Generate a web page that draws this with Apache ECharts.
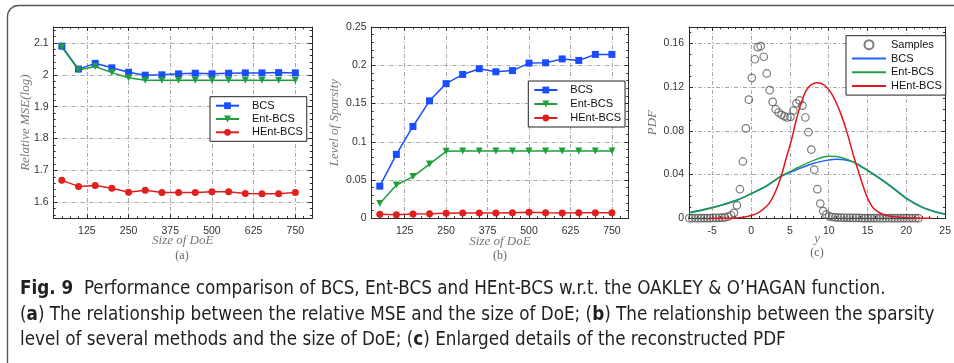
<!DOCTYPE html>
<html>
<head>
<meta charset="utf-8">
<script src="https://cdn.jsdelivr.net/npm/echarts@6/dist/echarts.min.js"></script>
<style>
html, body { margin: 0; padding: 0; background: #fff; }
#chart { width: 954px; height: 363px; }
</style>
</head>
<body>
<div id="chart"></div>
<script>
// (a) relative MSE and (b) sparsity against the size of DoE
var doeSizes = [50, 100, 150, 200, 250, 300, 350, 400, 450, 500, 550, 600, 650, 700, 750];
var mseBCS  = [2.090, 2.018, 2.036, 2.022, 2.008, 1.999, 2.000, 2.003, 2.005, 2.003, 2.005, 2.006, 2.006, 2.007, 2.006];
var mseEnt  = [2.087, 2.015, 2.026, 2.007, 1.991, 1.983, 1.983, 1.983, 1.983, 1.983, 1.983, 1.983, 1.983, 1.983, 1.983];
var mseHEnt = [1.669, 1.650, 1.653, 1.644, 1.632, 1.638, 1.631, 1.631, 1.631, 1.633, 1.633, 1.628, 1.627, 1.627, 1.631];
var sparBCS  = [0.042, 0.0835, 0.120, 0.1535, 0.176, 0.188, 0.1955, 0.1915, 0.193, 0.2028, 0.2032, 0.2083, 0.2063, 0.2142, 0.2142];
var sparEnt  = [0.0195, 0.0435, 0.0545, 0.0708, 0.0875, 0.0878, 0.0878, 0.0878, 0.0878, 0.0878, 0.0878, 0.0878, 0.0878, 0.0878, 0.0878];
var sparHEnt = [0.0052, 0.0045, 0.0057, 0.0060, 0.0066, 0.0070, 0.0070, 0.0070, 0.0074, 0.0079, 0.0074, 0.0070, 0.0074, 0.0074, 0.0074];

// (c) reconstructed PDF
var sampleX = [-7.96, -7.58, -7.19, -6.81, -6.43, -6.04, -5.66, -5.28, -4.89, -4.51, -4.13, -3.74, -3.36, -2.97, -2.59, -2.21,
	-1.82, -1.44, -1.06, -0.67, -0.29, 0.09, 0.48, 0.86, 1.24, 1.63, 2.01, 2.39, 2.78, 3.16, 3.54, 3.93, 4.31, 4.69,
	5.08, 5.46, 5.84, 6.23, 6.61, 6.99, 7.38, 7.76, 8.14, 8.53, 8.91, 9.29, 9.68, 10.06, 10.44, 10.83, 11.21, 11.59,
	11.98, 12.36, 12.74, 13.13, 13.51, 13.89, 14.28, 14.66, 15.04, 15.43, 15.81, 16.19, 16.58, 16.96, 17.34, 17.73,
	18.11, 18.49, 18.88, 19.26, 19.64, 20.03, 20.41, 20.79, 21.18, 21.56];
var sampleY = [0.0001, 0.0001, 0.0001, 0.0001, 0.0001, 0.0002, 0.0002, 0.0002, 0.0003, 0.0003, 0.0004, 0.0006, 0.0009, 0.0015, 0.0028, 0.0050,
	0.0119, 0.0266, 0.0520, 0.0822, 0.1085, 0.1285, 0.1455, 0.1565, 0.1575, 0.1478, 0.1325, 0.1172, 0.1065, 0.0998, 0.0968, 0.0947, 0.0933, 0.0922,
	0.0928, 0.0985, 0.1052, 0.1078, 0.1031, 0.0922, 0.0788, 0.0629, 0.0445, 0.0266, 0.0135, 0.0066, 0.0034, 0.0018, 0.0012, 0.0009, 0.0007, 0.0006,
	0.0005, 0.0004, 0.0004, 0.0003, 0.0003, 0.0003, 0.0002, 0.0002, 0.0002, 0.0002, 0.0002, 0.0001, 0.0001, 0.0001, 0.0001, 0.0001,
	0.0001, 0.0001, 0.0001, 0.0001, 0.0001, 0.0001, 0.0001, 0.0001, 0.0001, 0.0001];
var pdfX   = [-8, -6, -4, -2, 0, 2, 4, 6, 8, 10, 11, 12, 13.2, 14, 16, 18, 20, 22, 24, 25];
var pdfBCS = [0.0052, 0.0082, 0.0118, 0.0163, 0.0225, 0.0295, 0.0388, 0.0448, 0.0502, 0.0533, 0.0540, 0.0535, 0.0514, 0.0485, 0.0395, 0.0295, 0.0185, 0.0105, 0.0055, 0.0040];
var pdfEnt = [0.0048, 0.0078, 0.0115, 0.0160, 0.0225, 0.0298, 0.0392, 0.0462, 0.0528, 0.0568, 0.0565, 0.0548, 0.0514, 0.0480, 0.0390, 0.0290, 0.0180, 0.0100, 0.0052, 0.0037];
var hentX  = [-5.3, -3, -1, 0, 1, 2, 2.5, 3.2, 3.9, 4.5, 5.2, 5.8, 6.5, 7.1, 7.8, 8.6, 9.5, 10.4, 11.4, 12.3, 13.2, 13.8, 14.5, 15.1, 15.8, 17, 18.7, 21, 23.2];
var hentY  = [0, 0.0001, 0.0010, 0.0025, 0.0055, 0.0110, 0.0155, 0.0255, 0.0390, 0.0545, 0.0715, 0.0895, 0.1065, 0.1170, 0.1225, 0.1240, 0.1215, 0.1135, 0.0985, 0.0800, 0.0570, 0.0435, 0.0280, 0.0170, 0.0090, 0.0035, 0.0013, 0.0003, 0];

// tick labels
var doeTicks  = [125, 250, 375, 500, 625, 750];
var mseTicks  = [1.6, 1.7, 1.8, 1.9, 2.0, 2.1];
var sparTicks = [0, 0.05, 0.1, 0.15, 0.2, 0.25];
var yTicks    = [-5, 0, 5, 10, 15, 20, 25];
var pdfTicks  = [0, 0.04, 0.08, 0.12, 0.16];

var blue = '#1a4dff', green = '#1f9f3a', red = '#e0201e';
var labelFont = 'Liberation Sans, Arial, sans-serif';
var mathFont = 'Liberation Serif, Times New Roman, serif';

function pairs(xs, ys)
{
	var re = [];
	for(var i=0; i<xs.length; i++)
		re.push([xs[i], ys[i]]);
	return re;
}

// minor tick positions along an axis
function tickRange(from, to, step)
{
	var re = [];
	var n = Math.round((to - from) / step);
	for(var i=0; i<=n; i++)
		re.push(+(from + i * step).toFixed(6));
	return re;
}

var xAxes = [], yAxes = [];

/**
 * 4 axes per side: main (labels, grid, box line, major ticks), mirror box side, and two minor tick rows.
 */
function addAxes(list, grid, dim, range, major, minor, name, nameGap)
{
	var pos = (dim === 'x' ? ['bottom', 'top'] : ['left', 'right']);
	var ink = '#2b2b2b';
	function base(p)
	{
		return { type: 'value', gridIndex: grid, position: p, min: range[0], max: range[1], silent: true,
			axisLabel: { show: false }, splitLine: { show: false } };
	}

	var main = base(pos[0]);
	main.name = name;
	main.nameLocation = 'middle';
	main.nameGap = nameGap;
	main.nameMoveOverlap = false;
	main.nameTextStyle = { fontFamily: mathFont, fontStyle: 'italic', fontSize: 13, color: '#777' };
	main.axisLine = { show: true, onZero: false, lineStyle: { color: ink, width: 1 } };
	main.axisTick = { show: true, inside: true, length: 4, customValues: major, lineStyle: { color: ink } };
	main.axisLabel = { show: true, customValues: major, margin: (dim === 'x' ? 7 : 5), color: '#333',
		fontFamily: labelFont, fontSize: 10.5 };
	main.splitLine = { show: true, lineStyle: { color: '#a8a8a8', width: 1, type: [4, 2, 1, 2] } };
	list.push(main);

	var mirror = base(pos[1]);
	mirror.axisLine = { show: true, onZero: false, lineStyle: { color: ink, width: 1 } };
	mirror.axisTick = { show: true, inside: true, length: 4, customValues: major, lineStyle: { color: ink } };
	list.push(mirror);

	for(var i=0; i<2; i++)
	{
		var m = base(pos[i]);
		m.axisLine = { show: false, onZero: false };
		m.axisTick = { show: true, inside: true, length: 2.2, customValues: minor, lineStyle: { color: ink } };
		list.push(m);
	}
}

var grids = [
	{ left: 53.5, top: 27, width: 258.5, height: 191.3 },
	{ left: 371.5, top: 27, width: 257, height: 191.3 },
	{ left: 689, top: 27, width: 257.5, height: 191.3 }
];

addAxes(xAxes, 0, 'x', [25, 800], doeTicks, tickRange(25, 800, 25), 'Size of DoE', 15.5);
addAxes(yAxes, 0, 'y', [1.55, 2.15], mseTicks, tickRange(1.56, 2.14, 0.02), 'Relative MSE(log)', 21);
addAxes(xAxes, 1, 'x', [25, 800], doeTicks, tickRange(25, 800, 25), 'Size of DoE', 17);
addAxes(yAxes, 1, 'y', [0, 0.25], sparTicks, tickRange(0, 0.25, 0.01), 'Level of Sparsity', 30);
addAxes(xAxes, 2, 'x', [-8, 25], yTicks, tickRange(-8, 25, 1), 'y', 14);
addAxes(yAxes, 2, 'y', [0, 0.175], pdfTicks, tickRange(0, 0.17, 0.01), 'PDF', 29.5);

function markLine(name, panel, xs, ys, color, symbol, rotate)
{
	return { name: name, type: 'line', xAxisIndex: panel * 4, yAxisIndex: panel * 4, data: pairs(xs, ys),
		symbol: symbol, symbolSize: 7, symbolRotate: rotate || 0, showSymbol: true,
		lineStyle: { color: color, width: 1.5 }, itemStyle: { color: color }, z: 3 };
}

function pdfLine(name, xs, ys, color)
{
	return { name: name, type: 'line', xAxisIndex: 8, yAxisIndex: 8, data: pairs(xs, ys),
		smooth: 0.35, symbol: 'none', showSymbol: false,
		lineStyle: { color: color, width: 1.5 }, itemStyle: { color: color }, z: 4 };
}

var series = [
	markLine('BCS', 0, doeSizes, mseBCS, blue, 'rect'),
	markLine('Ent-BCS', 0, doeSizes, mseEnt, green, 'triangle', 180),
	markLine('HEnt-BCS', 0, doeSizes, mseHEnt, red, 'circle'),
	markLine('BCS', 1, doeSizes, sparBCS, blue, 'rect'),
	markLine('Ent-BCS', 1, doeSizes, sparEnt, green, 'triangle', 180),
	markLine('HEnt-BCS', 1, doeSizes, sparHEnt, red, 'circle'),
	{ name: 'Samples', type: 'scatter', xAxisIndex: 8, yAxisIndex: 8, data: pairs(sampleX, sampleY),
		symbol: 'circle', symbolSize: 7.5, z: 2,
		itemStyle: { color: 'rgba(0,0,0,0)', borderColor: '#5a5a5a', borderWidth: 1.2 } },
	pdfLine('c:BCS', pdfX, pdfBCS, '#2160ff'),
	pdfLine('c:Ent-BCS', pdfX, pdfEnt, '#1fa040'),
	pdfLine('c:HEnt-BCS', hentX, hentY, '#e3161c')
];

function legendBox(names, left, top, itemWidth, gap)
{
	return { data: names, orient: 'vertical', left: left, top: top, selectedMode: false,
		itemWidth: itemWidth, itemHeight: 8.5, itemGap: gap, padding: [3, 4, 3, 5],
		backgroundColor: '#fff', borderColor: '#222', borderWidth: 1, z: 10,
		formatter: function(n) { return n.replace('c:', ''); },
		textStyle: { fontFamily: labelFont, fontSize: 11, lineHeight: 12, color: '#111', padding: [0, 0, 0, 8] } };
}

// line-only entries: hide the marker the legend would draw in the middle
function plainEntry(name)
{
	return { name: name, itemStyle: { opacity: 0 } };
}

var legendC = legendBox(['Samples', plainEntry('c:BCS'), plainEntry('c:Ent-BCS'), plainEntry('c:HEnt-BCS')], 846, 35.7, 34, 1.8);
legendC.textStyle.padding = [0, 0, 0, 0];
legendC.itemHeight = 9;

var captionFont = "'Liberation Sans Narrow', 'DejaVu Sans Condensed', 'Roboto', sans-serif";
function caption(text, y)
{
	return { type: 'text', x: 20, y: y, z: 5,
		style: { text: text, fill: '#231f20', font: '18.7px ' + captionFont, verticalAlign: 'middle',
			rich: { b: { fontWeight: 'bold', fontSize: 18.7, fontFamily: captionFont, fill: '#231f20' } } } };
}

function subLabel(text, x, y)
{
	return { type: 'text', x: x, y: y, z: 5,
		style: { text: text, fill: '#666', font: '12px ' + mathFont, align: 'center', verticalAlign: 'middle' } };
}

var option = {
	animation: false,
	backgroundColor: '#fff',
	grid: grids,
	xAxis: xAxes,
	yAxis: yAxes,
	legend: [
		legendBox(['BCS', 'Ent-BCS', 'HEnt-BCS'], 210, 96.7, 23, 1.3),
		legendBox(['BCS', 'Ent-BCS', 'HEnt-BCS'], 528.3, 81, 23, 2),
		legendC
	],
	series: series,
	graphic: [
		{ type: 'rect', shape: { x: 7.5, y: 5.5, width: 1000, height: 500, r: 11 }, silent: true,
			style: { fill: 'none', stroke: '#555', lineWidth: 1.4 } },
		subLabel('(a)', 182, 256),
		subLabel('(b)', 500, 256),
		subLabel('(c)', 817, 253),
		caption('{b|Fig. 9}  Performance comparison of BCS, Ent-BCS and HEnt-BCS w.r.t. the OAKLEY & O\u2019HAGAN function.', 289),
		caption('({b|a}) The relationship between the relative MSE and the size of DoE; ({b|b}) The relationship between the sparsity', 315),
		caption('level of several methods and the size of DoE; ({b|c}) Enlarged details of the reconstructed PDF', 340)
	]
};

var chart = echarts.init(document.getElementById('chart'));
chart.setOption(option);
</script>
</body>
</html>
